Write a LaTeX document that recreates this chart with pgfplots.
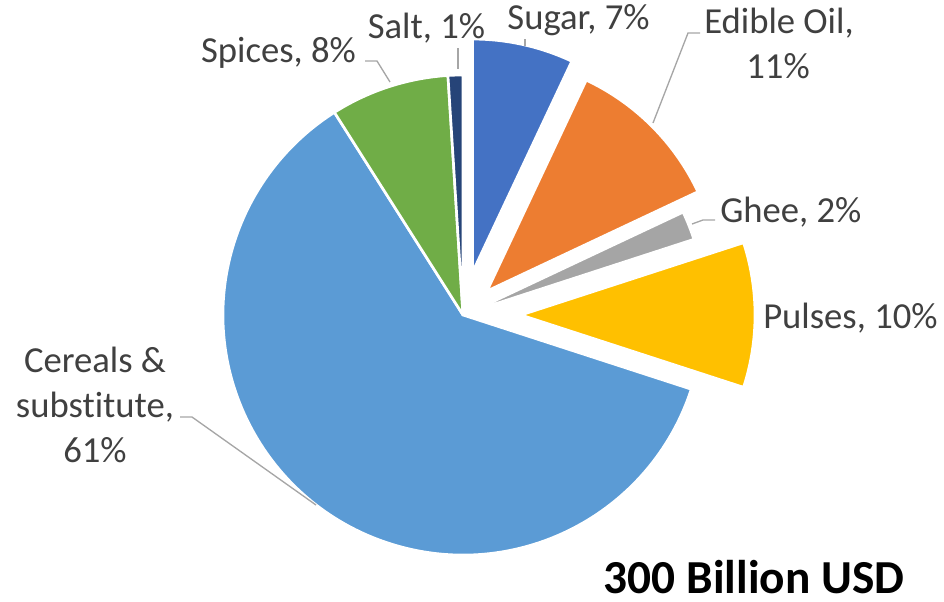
\documentclass[border=0pt]{standalone}
\usepackage{pgfplots}
\usepackage{pgfplotstable}
\pgfplotsset{compat=1.18}
\usepackage{fontspec}
\setmainfont{Carlito}[Ligatures=NoCommon]
\definecolor{c0}{HTML}{4472C4}
\definecolor{c1}{HTML}{ED7D31}
\definecolor{c2}{HTML}{A5A5A5}
\definecolor{c3}{HTML}{FFC000}
\definecolor{c4}{HTML}{5B9BD5}
\definecolor{c5}{HTML}{70AD47}
\definecolor{c6}{HTML}{264478}
\definecolor{lbl}{HTML}{404040}
\definecolor{lead}{HTML}{A6A6A6}

% share (percent), explosion offset (px), radius (px)
\pgfplotstableread{
name      value explode radius
Sugar     7     44      233
EdibleOil 11    34      233
Ghee      2     10      233
Pulses    10    58      234
Cereals   61    0       240
Spices    8     0       240
Salt      1     0       240
}\piedata

\def\cum{0}
\def\slicecmds{}
\pgfplotsforeachungrouped \i in {0,...,6}{%
  \pgfplotstablegetelem{\i}{value}\of\piedata \let\pval\pgfplotsretval
  \pgfplotstablegetelem{\i}{explode}\of\piedata \let\pexp\pgfplotsretval
  \pgfplotstablegetelem{\i}{radius}\of\piedata \let\prad\pgfplotsretval
  \pgfmathsetmacro\aone{\cum*3.6}%
  \pgfmathsetmacro\atwo{(\cum+\pval)*3.6}%
  \pgfmathsetmacro\bis{(\aone+\atwo)/2}%
  \pgfmathsetmacro\apx{463+\pexp*sin(\bis)}%
  \pgfmathsetmacro\apy{315-\pexp*cos(\bis)}%
  \pgfmathsetmacro\ta{90-\aone}%
  \pgfmathsetmacro\tb{90-\atwo}%
  \pgfmathsetmacro\rr{\prad*0.75}%
  \xdef\slicecmds{\unexpanded\expandafter{\slicecmds}%
    \noexpand\filldraw[fill=c\i,draw=white,line width=2pt,line join=round]
    (axis cs:\apx,\apy) -- ++(\ta:\rr pt)
    arc[start angle=\ta,end angle=\tb,radius=\rr pt] -- cycle;}%
  \pgfmathsetmacro\cum{\cum+\pval}%
  \global\let\cum\cum
}

\begin{document}
\begin{tikzpicture}
\begin{axis}[
  scale only axis, width=708pt, height=450.75pt,
  xmin=0, xmax=944, ymin=0, ymax=601, y dir=reverse,
  hide axis, clip=false]
\path (axis cs:0,0) rectangle (axis cs:944,601);
\slicecmds
% leader lines
\draw[lead, line width=1pt] (axis cs:180,417) -- (axis cs:192,417) -- (axis cs:316,505);
\draw[lead, line width=1pt] (axis cs:365,61) -- (axis cs:377,61) -- (axis cs:390,82);
\draw[lead, line width=1pt] (axis cs:458,48) -- (axis cs:458,69);
\draw[lead, line width=1pt] (axis cs:525,39) -- (axis cs:525,46);
\draw[lead, line width=1pt] (axis cs:700,33) -- (axis cs:688,33) -- (axis cs:653,123);
\draw[lead, line width=1pt] (axis cs:715,220) -- (axis cs:703,220) -- (axis cs:692,224);
% labels
\begin{scope}[every node/.style={text=lbl, font=\fontsize{27.5}{33}\selectfont, inner sep=0pt}]
\node[anchor=base] at (axis cs:578.5,29) {Sugar, 7\%};
\node[anchor=base] at (axis cs:426.5,38) {Salt, 1\%};
\node[anchor=base] at (axis cs:278.5,62) {Spices, 8\%};
\node[anchor=base] at (axis cs:779,33) {Edible Oil,};
\node[anchor=base] at (axis cs:778,78) {11\%};
\node[anchor=base west] at (axis cs:720,222) {Ghee, 2\%};
\node[anchor=base west] at (axis cs:763,328) {Pulses, 10\%};
\node[anchor=base] at (axis cs:95,372) {Cereals \&};
\node[anchor=base] at (axis cs:95,417) {substitute,};
\node[anchor=base] at (axis cs:95,462) {61\%};
\end{scope}
\node[anchor=base, inner sep=0pt, text depth=0pt, font=\fontsize{35.5}{40}\selectfont\bfseries] at (axis cs:754,593) {300 Billion USD};
\end{axis}
\end{tikzpicture}
\end{document}
